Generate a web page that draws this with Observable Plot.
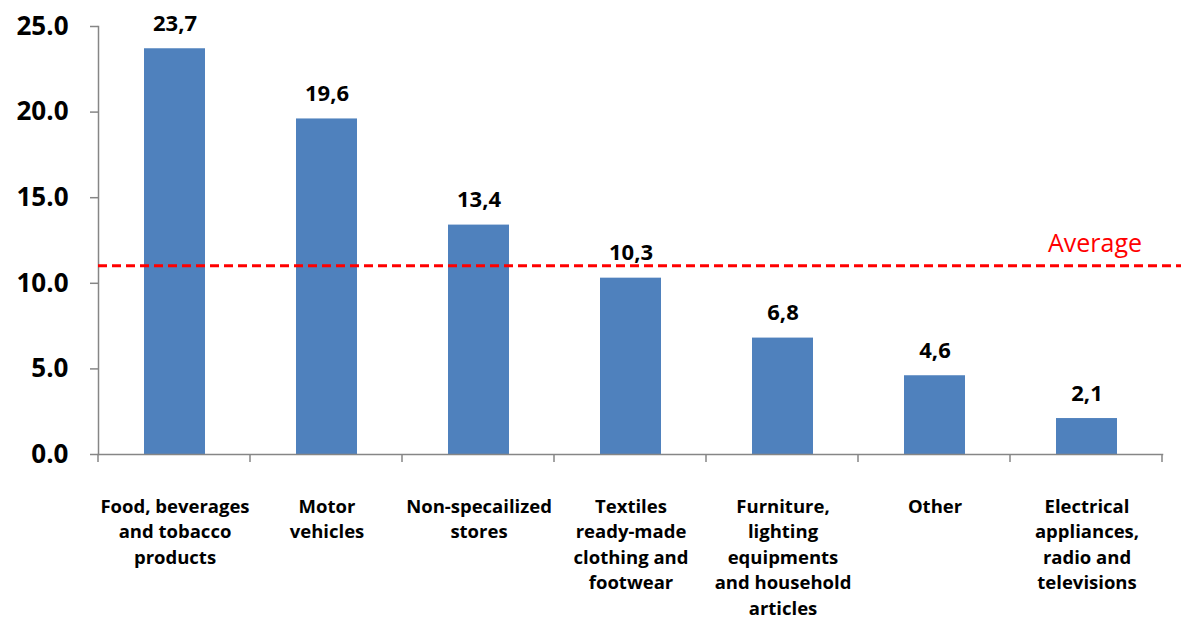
<!DOCTYPE html>
<html>
<head>
<meta charset="utf-8">
<script src="https://cdn.jsdelivr.net/npm/d3@7"></script>
<script src="https://cdn.jsdelivr.net/npm/@observablehq/plot@0.6"></script>
<style>
  html, body { margin: 0; padding: 0; background: #fff; }
  #chart svg { display: block; }
</style>
</head>
<body>
<div id="chart"></div>
<script>
const categories = [
  "Food, beverages and tobacco products",
  "Motor vehicles",
  "Non-specailized stores",
  "Textiles ready-made clothing and footwear",
  "Furniture, lighting equipments and household articles",
  "Other",
  "Electrical appliances, radio and televisions"
];
const xLabels = [
  "Food, beverages\nand tobacco\nproducts",
  "Motor\nvehicles",
  "Non-specailized\nstores",
  "Textiles\nready-made\nclothing and\nfootwear",
  "Furniture,\nlighting\nequipments\nand household\narticles",
  "Other",
  "Electrical\nappliances,\nradio and\ntelevisions"
];
const values = [23.7, 19.6, 13.4, 10.3, 6.8, 4.6, 2.1];
const valueLabels = ["23,7", "19,6", "13,4", "10,3", "6,8", "4,6", "2,1"];
const average = 11.0;
const averageLabel = "Average";
const yTicks = [0, 5, 10, 15, 20, 25];

const data = categories.map((c, i) => ({category: c, value: values[i], label: valueLabels[i]}));
const labelOf = new Map(categories.map((c, i) => [c, xLabels[i]]));

const FONT = "'Open Sans', 'Noto Sans', sans-serif";
const AXIS = "#868686";

const chart = Plot.plot({
  width: 1181,
  height: 620,
  marginTop: 26,
  marginLeft: 98,
  marginRight: 19,
  marginBottom: 166,
  style: {fontFamily: FONT, background: "#fff", overflow: "visible"},
  x: {domain: categories, paddingInner: 0.6, paddingOuter: 0.3, align: 0.5},
  y: {domain: [0, 25]},
  marks: [
    Plot.barY(data, {x: "category", y: "value", fill: "#4F81BD"}),
    Plot.text(data, {x: "category", y: "value", text: "label", dy: -18, lineAnchor: "bottom",
      fontSize: 22, fontWeight: "bold", fill: "#000"}),
    Plot.frame({anchor: "left", stroke: AXIS, strokeWidth: 1.5}),
    Plot.frame({anchor: "bottom", stroke: AXIS, strokeWidth: 1.5}),
    Plot.axisY({ticks: yTicks, tickSize: 8, tickPadding: 22, tickFormat: d => d.toFixed(1),
      fontSize: 26, fontWeight: "bold", stroke: AXIS, color: "#000", strokeWidth: 1.5, label: null}),
    Plot.axisX({tickSize: 0, tickPadding: 40, tickFormat: d => labelOf.get(d),
      fontSize: 18.5, fontWeight: "bold", lineHeight: 1.38, fill: "#000", label: null}),
    (index, scales, values, dims) => {
      const g = d3.create("svg:g");
      const n = categories.length;
      const x0 = dims.marginLeft, x1 = dims.width - dims.marginRight;
      const step = (x1 - x0) / n;
      const yb = scales.y(0);
      for (let i = 0; i <= n; i++) {
        g.append("line")
          .attr("x1", x0 + i * step).attr("x2", x0 + i * step)
          .attr("y1", yb).attr("y2", yb + 8)
          .attr("stroke", AXIS).attr("stroke-width", 1.5);
      }
      const ya = scales.y(average);
      g.append("line")
        .attr("x1", x0).attr("x2", dims.width)
        .attr("y1", ya).attr("y2", ya)
        .attr("stroke", "#FF0000").attr("stroke-width", 3)
        .attr("stroke-dasharray", "9,5");
      g.append("text")
        .attr("x", 1095).attr("y", ya - 14)
        .attr("text-anchor", "middle")
        .attr("fill", "#FF0000")
        .attr("font-size", 25)
        .attr("font-family", FONT)
        .text(averageLabel);
      return g.node();
    }
  ]
});
document.getElementById("chart").appendChild(chart);
</script>
</body>
</html>
